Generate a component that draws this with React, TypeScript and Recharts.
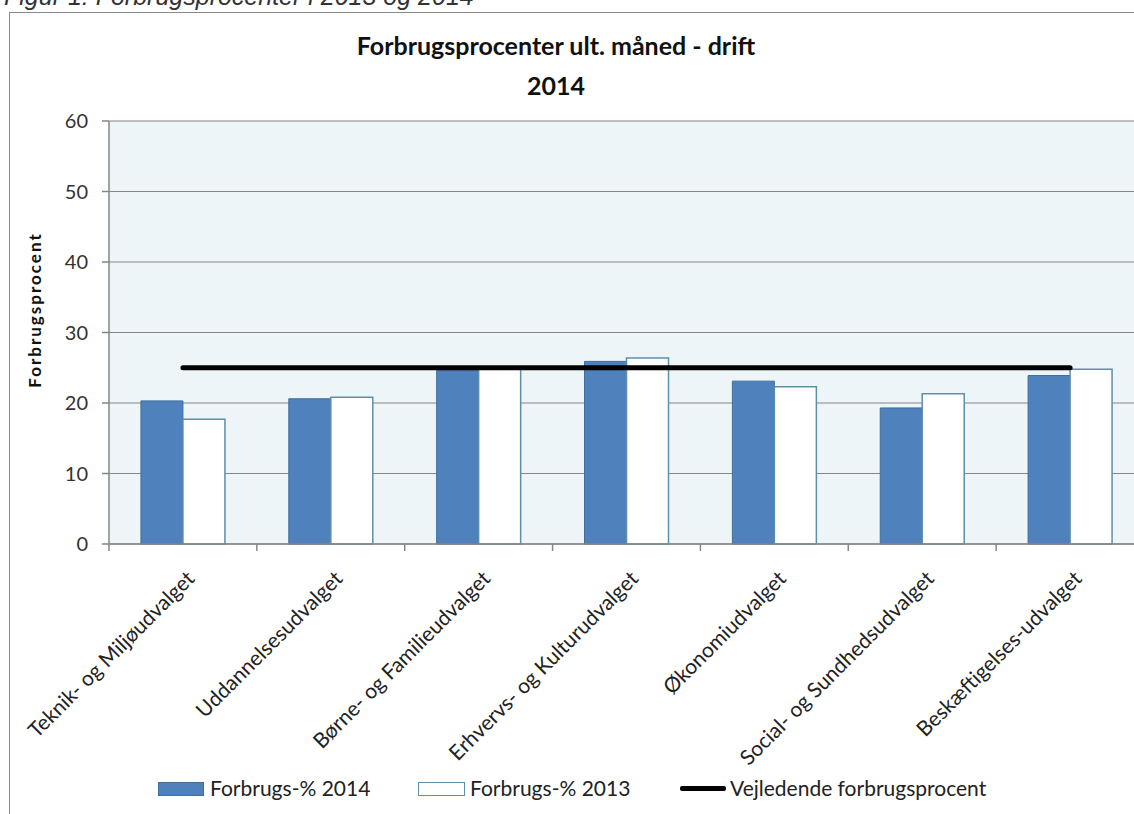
import { Bar, CartesianGrid, ComposedChart, Line, XAxis, YAxis } from "recharts";

const categories = [
  "Teknik- og Miljøudvalget",
  "Uddannelsesudvalget",
  "Børne- og Familieudvalget",
  "Erhvervs- og Kulturudvalget",
  "Økonomiudvalget",
  "Social- og Sundhedsudvalget",
  "Beskæftigelses-udvalget",
];
const forbrug2014 = [20.3, 20.6, 24.6, 25.9, 23.1, 19.3, 23.9];
const forbrug2013 = [17.7, 20.8, 24.8, 26.4, 22.3, 21.3, 24.8];
const vejledende = [25, 25, 25, 25, 25, 25, 25];
const yTicks = [0, 10, 20, 30, 40, 50, 60];

const data = categories.map((name, i) => ({
  name,
  y2014: forbrug2014[i],
  y2013: forbrug2013[i],
  guide: vejledende[i],
}));

const W = 1160;
const H = 814;
const margin = { top: 121, right: 16, bottom: 60, left: 60 };
const yAxisWidth = 49;
const plotW = W - margin.left - margin.right - yAxisWidth;
const band = plotW / categories.length;
const font = "Lato, 'Open Sans', sans-serif";
const axisColor = "#868686";

function CatTick(props: any) {
  const { x, y, payload, index } = props;
  return (
    <g>
      <line x1={x - band / 2} x2={x - band / 2} y1={y} y2={y + 7} stroke={axisColor} strokeWidth={1.5} />
      {index === categories.length - 1 && (
        <line x1={x + band / 2} x2={x + band / 2} y1={y} y2={y + 7} stroke={axisColor} strokeWidth={1.5} />
      )}
      <text
        x={0}
        y={0}
        transform={`translate(${x + 13},${y + 36}) rotate(-45)`}
        textAnchor="end"
        fontSize={21}
        fontFamily={font}
        fill="#222"
      >
        {payload.value}
      </text>
    </g>
  );
}

function LegendRow() {
  const text = {
    position: "absolute" as const,
    top: 774,
    fontFamily: font,
    fontSize: 21,
    lineHeight: "28px",
    color: "#222",
    whiteSpace: "nowrap" as const,
  };
  return (
    <>
      <div style={{ position: "absolute", left: 158, top: 782, width: 44, height: 12, background: "#4F81BD", border: "1px solid #3f6f9f" }} />
      <span style={{ ...text, left: 210 }}>Forbrugs-% 2014</span>
      <div style={{ position: "absolute", left: 418, top: 782, width: 45, height: 12, background: "#fff", border: "1px solid #5e8fa8" }} />
      <span style={{ ...text, left: 470 }}>Forbrugs-% 2013</span>
      <div style={{ position: "absolute", left: 680, top: 786, width: 46, height: 5, background: "#000", borderRadius: 2 }} />
      <span style={{ ...text, left: 730 }}>Vejledende forbrugsprocent</span>
    </>
  );
}

export default function App() {
  return (
    <div
      style={{
        position: "absolute",
        left: 0,
        top: 0,
        width: 1134,
        height: H,
        overflow: "hidden",
        background: "#fff",
      }}
    >
      <div
        style={{
          position: "absolute",
          left: 4,
          top: -18,
          fontFamily: "'Liberation Sans', Arial, sans-serif",
          fontStyle: "italic",
          fontSize: 25,
          color: "#333",
          whiteSpace: "nowrap",
        }}
      >
        Figur 1: Forbrugsprocenter i 2013 og 2014
      </div>
      <div
        style={{
          position: "absolute",
          left: 9,
          top: 12,
          width: 1200,
          height: 900,
          border: "1px solid #8a8a8a",
        }}
      />
      <div
        style={{
          position: "absolute",
          left: 0,
          top: 25,
          width: 1112,
          textAlign: "center",
          fontFamily: font,
          fontWeight: 700,
          fontSize: 25,
          lineHeight: "40px",
          color: "#111",
        }}
      >
        Forbrugsprocenter ult. måned - drift
        <br />
        2014
      </div>
      <div style={{ position: "absolute", left: 0, top: 0 }}>
        <ComposedChart width={W} height={H} data={data} margin={margin} barCategoryGap="21.6%" barGap={0}>
          <CartesianGrid vertical={false} stroke={axisColor} strokeWidth={1.2} fill="#EEF5F9" />
          <XAxis
            dataKey="name"
            interval={0}
            height={210}
            tickSize={0}
            tickMargin={0}
            tick={<CatTick />}
            axisLine={{ stroke: axisColor, strokeWidth: 1.5 }}
          />
          <YAxis
            domain={[0, 60]}
            ticks={yTicks}
            width={yAxisWidth}
            tickSize={7}
            tickMargin={14}
            axisLine={{ stroke: axisColor, strokeWidth: 1.5 }}
            tickLine={{ stroke: axisColor, strokeWidth: 1.5 }}
            tick={{ fontSize: 20, fontFamily: font, fill: "#333" }}
            label={{
              content: () => (
                <text
                  x={41}
                  y={310}
                  transform="rotate(-90 41 310)"
                  textAnchor="middle"
                  fontFamily={font}
                  fontWeight={700}
                  fontSize={17}
                  letterSpacing={2}
                  fill="#111"
                >
                  Forbrugsprocent
                </text>
              ),
            }}
          />
          <Bar dataKey="y2014" fill="#4F81BD" stroke="#3f6f9f" strokeWidth={1} isAnimationActive={false} />
          <Bar dataKey="y2013" fill="#ffffff" stroke="#5e8fa8" strokeWidth={1.5} isAnimationActive={false} />
          <Line
            dataKey="guide"
            stroke="#000"
            strokeWidth={5}
            dot={false}
            activeDot={false}
            strokeLinecap="round"
            isAnimationActive={false}
          />
        </ComposedChart>
      </div>
      <LegendRow />
    </div>
  );
}
